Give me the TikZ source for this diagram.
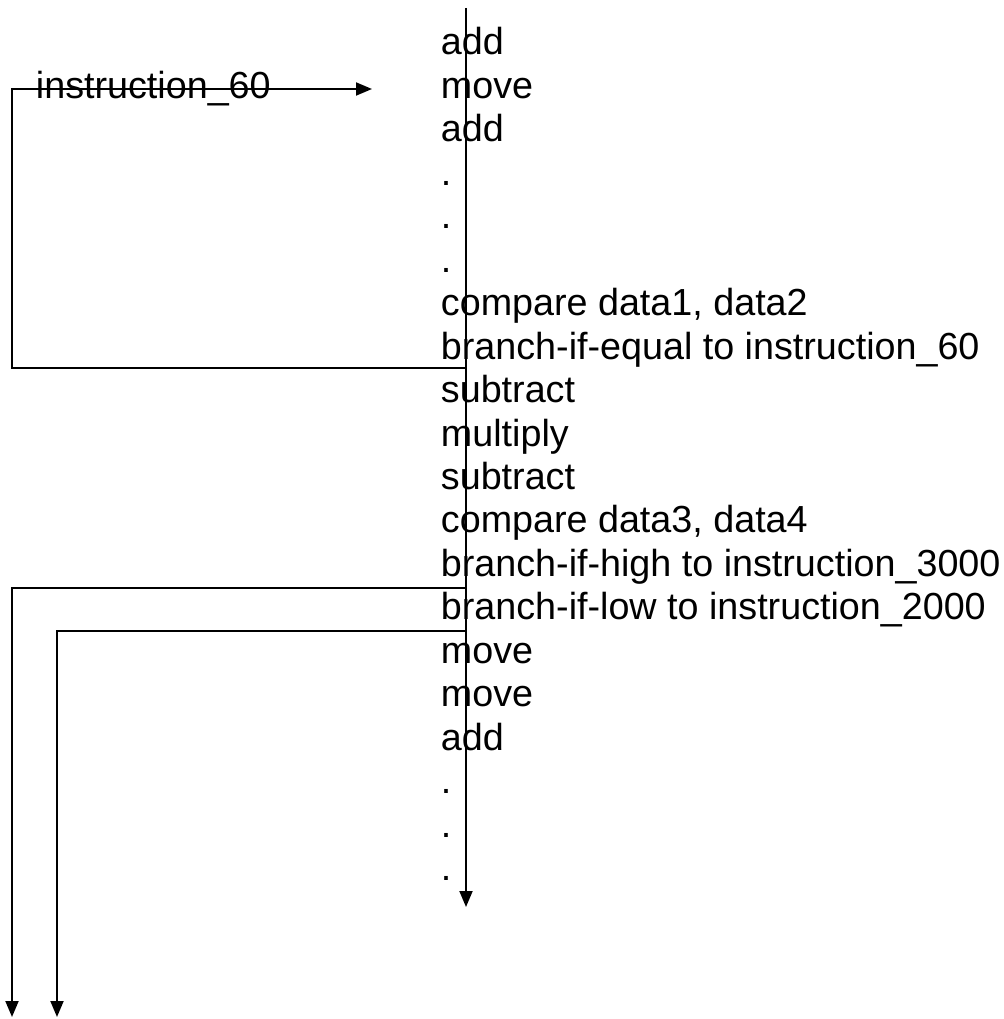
\documentclass[tikz,border=0pt]{standalone}
\usepackage{fontspec}
\setmainfont{Liberation Sans}
\usepackage{tikz}
\usetikzlibrary{arrows.meta,positioning,calc}

\begin{document}
\begin{tikzpicture}[x=1pt,y=-1pt,line width=1.9pt,
  every node/.style={font=\fontsize{37.7}{43.45}\selectfont,inner sep=0pt,anchor=base west},
  flow/.style={-{Triangle[length=16pt,width=13pt]}}]
  \useasboundingbox (0,0) rectangle (1003,1019);
  % program listing
  \foreach \i/\txt in {0/add,1/move,2/add,3/.,4/.,5/.,6/{compare data1, data2},
      7/{branch-if-equal to instruction\_60},8/subtract,9/multiply,10/subtract,
      11/{compare data3, data4},12/{branch-if-high to instruction\_3000},
      13/{branch-if-low to instruction\_2000},14/move,15/move,16/add,17/.,18/.,19/.}
    {\node (r\i) at (440,{55+43.45*\i}) {\txt};}
  \node (lab) at (35,98.5) {instruction\_60};
  % control flow
  \coordinate (top) at (466,8);
  \coordinate (bot) at (466,907);
  \coordinate (eqR) at (466,368);
  \coordinate (eqL) at (12,368);
  \coordinate (jmpL) at (12,89);
  \coordinate (jmp) at (372,89);
  \coordinate (hiR) at (466,588);
  \coordinate (hiL) at (12,588);
  \coordinate (hiE) at (12,1017);
  \coordinate (loR) at (466,631);
  \coordinate (loL) at (57,631);
  \coordinate (loE) at (57,1017);
  \draw[flow] (top) -- (bot);
  \draw[flow] (eqR) -- (eqL) -- (jmpL) -- (jmp);
  \draw[flow] (hiR) -- (hiL) -- (hiE);
  \draw[flow] (loR) -- (loL) -- (loE);
\end{tikzpicture}
\end{document}
